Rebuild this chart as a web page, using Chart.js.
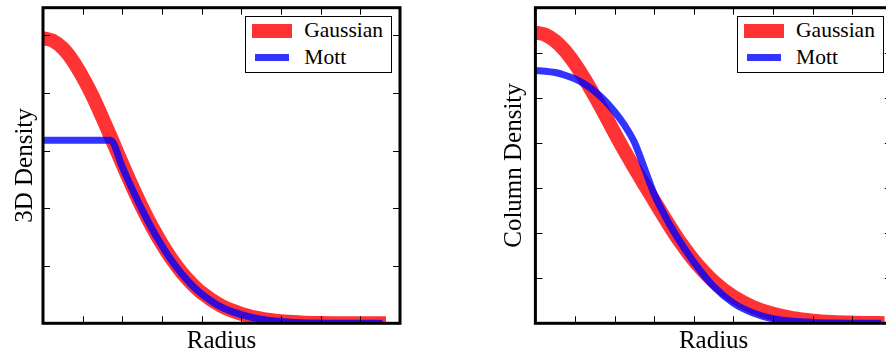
<!DOCTYPE html>
<html>
<head>
<meta charset="utf-8">
<script src="https://cdn.jsdelivr.net/npm/chart.js@4.4.1/dist/chart.umd.min.js"></script>
<style>
html,body{margin:0;padding:0;background:#fff;overflow:hidden;width:886px;height:358px}
#wrap{position:relative;width:886px;height:358px;overflow:hidden}
canvas{position:absolute;top:0}
.lg{position:absolute;border:1.5px solid #000;background:#fff;box-sizing:border-box}
.sw{position:absolute}
.lt{position:absolute;font-family:"Liberation Serif";font-size:21.5px;line-height:21.5px;color:#000;white-space:nowrap}
</style>
</head>
<body>
<div id="wrap">
<canvas id="c3d" width="443" height="358" style="left:0"></canvas>
<canvas id="ccol" width="492" height="358" style="left:443px"></canvas>
</div>
<script>
// tick marks (no labels in the figure)
const xTicks=[1,2,3,4,5,6,7,8];
const yTicks3D=[0.2,0.4,0.6,0.8,1.0];
const yTicksCol=[1,2,3,4,5,6];

// left panel: 3D density
const radius3D=[0,0.25,0.5,0.75,1,1.25,1.5,1.7,2,2.25,2.5,2.75,3,3.25,3.5,3.75,4,4.5,5,5.5,6,6.5,7,7.5,8,8.47];
const gauss3D=[0.99,0.981,0.955,0.912,0.855,0.789,0.713,0.65,0.553,0.475,0.402,0.335,0.275,0.222,0.176,0.138,0.106,0.06,0.033,0.016,0.007,0.003,0.001,0,0,0];
const mott3D=[0.636,0.636,0.636,0.636,0.636,0.636,0.636,0.636,0.543,0.466,0.394,0.328,0.269,0.216,0.171,0.133,0.102,0.056,0.03,0.014,0.006,0.002,0.001,0,0,0];

// right panel: column density
const radiusCol=[0,0.25,0.5,0.75,1,1.25,1.5,1.75,2,2.25,2.5,2.75,3,3.25,3.5,3.75,4,4.5,5,5.5,6,6.5,7,7.5,8,8.64];
const gaussCol=[6.46,6.41,6.27,6.05,5.76,5.42,5.04,4.64,4.23,3.83,3.45,3.08,2.72,2.36,2.01,1.69,1.4,0.93,0.59,0.36,0.21,0.115,0.06,0.03,0.015,0.005];
const mottCol=[5.61,5.6,5.57,5.51,5.43,5.31,5.15,4.95,4.7,4.4,4.02,3.45,2.87,2.42,2.03,1.68,1.36,0.82,0.45,0.23,0.1,0.045,0.02,0.008,0.003,0];

Chart.defaults.font.family='"Liberation Serif", serif';
Chart.defaults.color='#000';

function framePlugin(xt,yt){
  return {id:'frame',afterDatasetsDraw(ch){
    const ctx=ch.ctx, a=ch.chartArea, x=ch.scales.x, y=ch.scales.y, L=7;
    ctx.save(); ctx.strokeStyle='#000'; ctx.lineWidth=1; ctx.beginPath();
    for(const v of xt){const p=Math.round(x.getPixelForValue(v))+0.5; ctx.moveTo(p,a.bottom); ctx.lineTo(p,a.bottom-L); ctx.moveTo(p,a.top); ctx.lineTo(p,a.top+L);}
    for(const v of yt){const p=Math.round(y.getPixelForValue(v))+0.5; ctx.moveTo(a.left,p); ctx.lineTo(a.left+L,p); ctx.moveTo(a.right,p); ctx.lineTo(a.right-L,p);}
    ctx.stroke();
    ctx.lineWidth=3; ctx.strokeRect(a.left,a.top,a.right-a.left,a.bottom-a.top);
    ctx.restore();
  }};
}

function pts(xs,ys){return xs.map((r,i)=>({x:r,y:ys[i]}));}

function makeChart(id,xs,g,m,yMax,yt,ytitle,pad,yw){
  return new Chart(document.getElementById(id),{
    type:'line',
    data:{datasets:[
      {label:'Gaussian',data:pts(xs,g),borderColor:'rgba(255,0,0,0.8)',borderWidth:14,order:1},
      {label:'Mott',data:pts(xs,m),borderColor:'rgba(0,0,255,0.8)',borderWidth:7,order:0}
    ]},
    options:{
      responsive:false,animation:false,
      layout:{padding:pad},
      elements:{point:{radius:0},line:{borderCapStyle:'square',borderJoinStyle:'round',cubicInterpolationMode:'monotone',fill:false}},
      plugins:{legend:{display:false},tooltip:{enabled:false}},
      scales:{
        x:{type:'linear',min:0,max:9,grid:{display:false},border:{display:false},ticks:{display:false},
           title:{display:true,text:'Radius',font:{size:25},color:'#000',padding:{top:0,bottom:2}},
           afterFit(s){s.height=34.7;}},
        y:{type:'linear',min:0,max:yMax,grid:{display:false},border:{display:false},ticks:{display:false},
           title:{display:true,text:ytitle,font:{size:25},color:'#000',padding:{top:10,bottom:0}},
           afterFit(s){s.width=yw;}}
      }
    },
    plugins:[framePlugin(xTicks,yt)]
  });
}

function addLegend(ch){
  const wrap=document.getElementById('wrap');
  const off=ch.canvas.offsetLeft, a=ch.chartArea;
  const bx=off+a.right-7.7-147, by=a.top+8.3;
  const box=document.createElement('div'); box.className='lg';
  Object.assign(box.style,{left:bx+'px',top:by+'px',width:'147px',height:'56.5px'});
  wrap.appendChild(box);
  const spec=[{sx:6.5,sy:8,sw:40.5,sh:14,ty:4.4},{sx:10,sy:38,sw:34,sh:7,ty:31}];
  ch.data.datasets.forEach((d,i)=>{
    const s=spec[i];
    const sw=document.createElement('div'); sw.className='sw';
    Object.assign(sw.style,{left:(bx+s.sx)+'px',top:(by+s.sy)+'px',width:s.sw+'px',height:s.sh+'px',background:d.borderColor});
    wrap.appendChild(sw);
    const t=document.createElement('div'); t.className='lt'; t.textContent=d.label;
    Object.assign(t.style,{left:(bx+59)+'px',top:(by+s.ty)+'px'});
    wrap.appendChild(t);
  });
}

const c1=makeChart('c3d',radius3D,gauss3D,mott3D,1.096,yTicks3D,'3D Density',{left:0,right:43,top:7.7,bottom:0},43);
const c2=makeChart('ccol',radiusCol,gaussCol,mottCol,7.01,yTicksCol,'Column Density',{left:46,right:43.2,top:7.7,bottom:0},46.4);
addLegend(c1); addLegend(c2);
</script>
</body>
</html>
